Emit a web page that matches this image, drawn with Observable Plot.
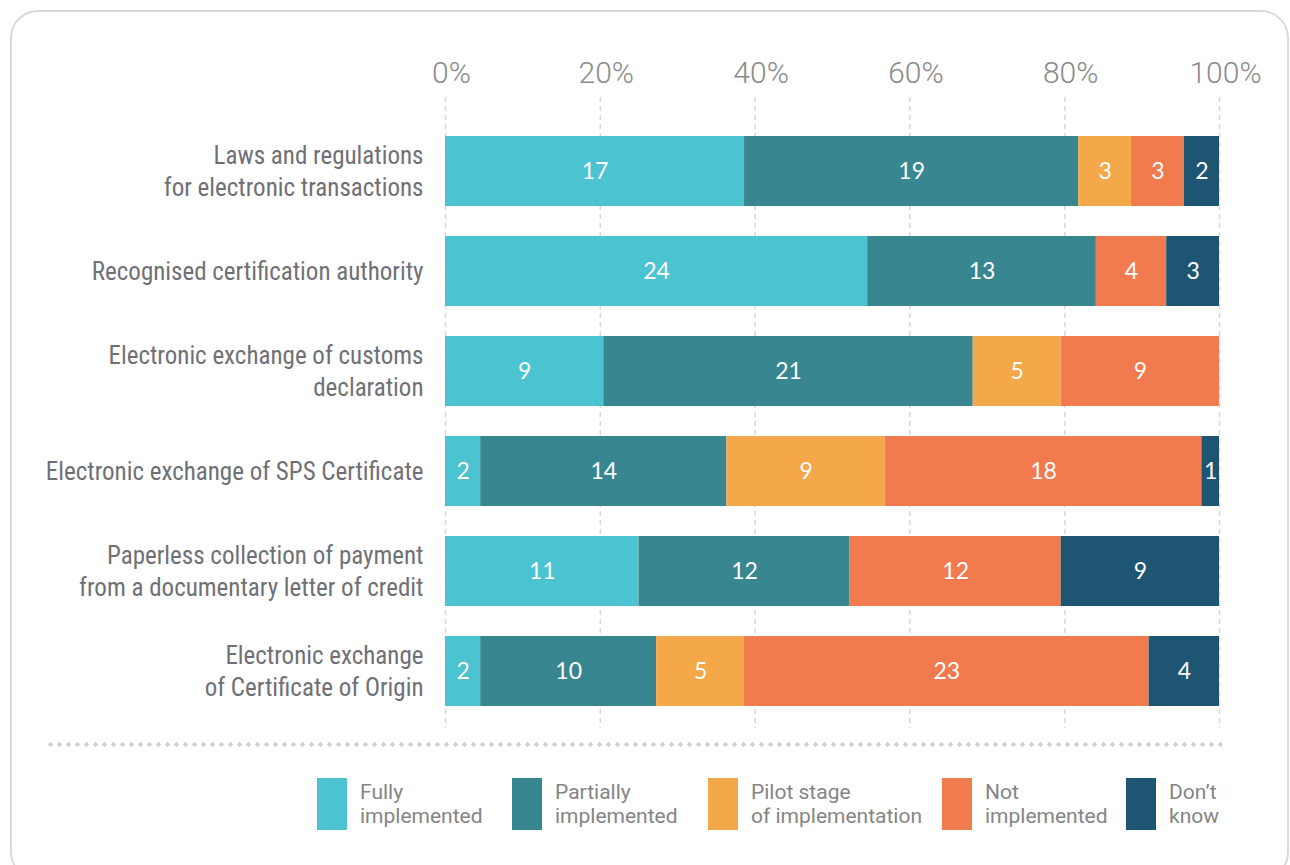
<!DOCTYPE html>
<html>
<head>
<meta charset="utf-8">
<script src="https://cdn.jsdelivr.net/npm/d3@7"></script>
<script src="https://cdn.jsdelivr.net/npm/@observablehq/plot@0.6"></script>
<style>
  body { margin: 0; background: #fff; width: 1290px; height: 865px; overflow: hidden; position: relative;
         font-family: Roboto, sans-serif; }
  #frame { position: absolute; left: 10px; top: 10px; width: 1279px; height: 870px; border: 2.5px solid #d9d9d9; border-radius: 28px; box-sizing: border-box; }
  #chart { position: absolute; left: 0; top: 0; }
  #sep { position: absolute; left: 46px; top: 742px; width: 1176px; height: 5px;
         background-image: radial-gradient(circle, #cfcfcf 2px, transparent 2.3px); background-size: 9px 5px; background-repeat: repeat-x; }
  .lg { position: absolute; top: 778px; height: 52px; display: flex; }
  .sw { width: 30px; height: 52px; }
  .lt { margin-left: 13px; font-family: Roboto, sans-serif; font-size: 21px; line-height: 24px; color: #858585; margin-top: 2px; }
</style>
</head>
<body>
<div id="frame"></div>
<div id="chart"></div>
<div id="sep"></div>
<div id="legend"></div>
<script>
const categories = [
  "Laws and regulations\nfor electronic transactions",
  "Recognised certification authority",
  "Electronic exchange of customs\ndeclaration",
  "Electronic exchange of SPS Certificate",
  "Paperless collection of payment\nfrom a documentary letter of credit",
  "Electronic exchange\nof Certificate of Origin"
];
const statuses = ["Fully implemented", "Partially implemented", "Pilot stage of implementation", "Not implemented", "Don't know"];
const legendLabels = ["Fully<br>implemented", "Partially<br>implemented", "Pilot stage<br>of implementation", "Not<br>implemented", "Don’t<br>know"];
const colors = ["#4bc3d1", "#388690", "#f4a84a", "#f27a4f", "#1e5573"];
const fully     = [17, 24, 9, 2, 11, 2];
const partially = [19, 13, 21, 14, 12, 10];
const pilot     = [3, 0, 5, 9, 0, 5];
const notImpl   = [3, 4, 9, 18, 12, 23];
const dontKnow  = [2, 3, 0, 1, 9, 4];
const xTicks = [0, 0.2, 0.4, 0.6, 0.8, 1];

const series = [fully, partially, pilot, notImpl, dontKnow];
const data = [];
categories.forEach((c, i) => {
  series.forEach((s, j) => {
    if (s[i] > 0) data.push({category: c, status: statuses[j], value: s[i]});
  });
});

const condensed = `"Roboto Condensed", "Liberation Sans Narrow", Roboto, sans-serif`;
const stackOpts = {x: "value", y: "category", z: "status", order: statuses, offset: "normalize"};

const plot = Plot.plot({
  width: 1290,
  height: 728,
  marginLeft: 445,
  marginRight: 71,
  marginTop: 121,
  marginBottom: 6.5,
  style: {fontFamily: condensed, background: "transparent"},
  x: {domain: [0, 1], axis: null},
  y: {domain: categories, paddingInner: 0.3, paddingOuter: 0.15, axis: null},
  color: {domain: statuses, range: colors},
  marks: [
    Plot.ruleX(xTicks, {stroke: "#d8d8d8", strokeWidth: 1.5, strokeDasharray: "5,4", insetTop: -24, insetBottom: -14}),
    Plot.barX(data, Plot.stackX({...stackOpts, fill: "status"})),
    Plot.text(data, Plot.stackX({...stackOpts, text: d => String(d.value), fill: "white", fontSize: 23, fontFamily: "Lato, 'Open Sans', sans-serif"})),
    Plot.axisX({anchor: "top", ticks: xTicks, tickSize: 0, tickPadding: 39, dx: 6, label: null, tickFormat: d => Math.round(d * 100) + "%", fontSize: 30, fontFamily: "Roboto, sans-serif", fontWeight: 300, color: "#8a8a8a"}),
    Plot.text(categories, {y: d => d, text: d => d, frameAnchor: "left", textAnchor: "end", dx: -22, dy: -2, fontSize: 25, lineHeight: 1.28, fill: "#6f7075"})
  ]
});
document.getElementById("chart").appendChild(plot);

const lgX = [317, 512, 708, 942, 1126];
const lg = document.getElementById("legend");
statuses.forEach((s, i) => {
  const el = document.createElement("div");
  el.className = "lg";
  el.style.left = lgX[i] + "px";
  el.innerHTML = `<div class="sw" style="background:${colors[i]}"></div><div class="lt">${legendLabels[i]}</div>`;
  lg.appendChild(el);
});
</script>
</body>
</html>
